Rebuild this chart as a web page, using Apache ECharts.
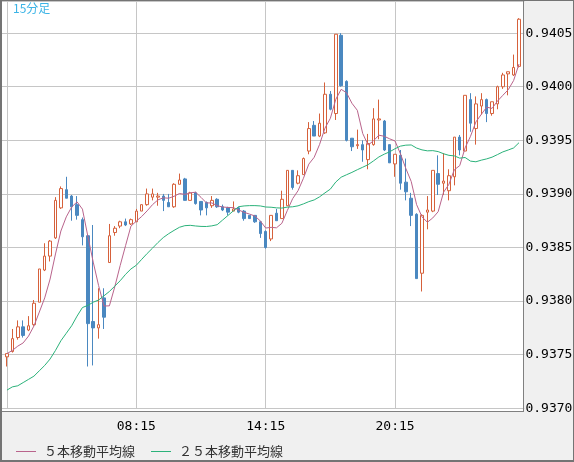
<!DOCTYPE html>
<html>
<head>
<meta charset="utf-8">
<script src="https://cdn.jsdelivr.net/npm/echarts@6/dist/echarts.min.js"></script>
<style>
html,body{margin:0;padding:0;background:#f0f0f0;}
#chart{width:574px;height:462px;}
</style>
</head>
<body>
<div id="chart"></div>
<script>
// ---- data (15-minute bars) ----
const times = [
"02:15","02:30","02:45","03:00","03:15","03:30","03:45","04:00","04:15","04:30","04:45","05:00",
"05:15","05:30","05:45","06:00","06:15","06:30","06:45","07:00","07:15","07:30","07:45","08:00",
"08:15","08:30","08:45","09:00","09:15","09:30","09:45","10:00","10:15","10:30","10:45","11:00",
"11:15","11:30","11:45","12:00","12:15","12:30","12:45","13:00","13:15","13:30","13:45","14:00",
"14:15","14:30","14:45","15:00","15:15","15:30","15:45","16:00","16:15","16:30","16:45","17:00",
"17:15","17:30","17:45","18:00","18:15","18:30","18:45","19:00","19:15","19:30","19:45","20:00",
"20:15","20:30","20:45","21:00","21:15","21:30","21:45","22:00","22:15","22:30","22:45","23:00",
"23:15","23:30","23:45","00:00","00:15","00:30","00:45","01:00","01:15","01:30","01:45","02:00"
];
const openPrices = [
0.93748,0.93753,0.93766,0.93776,0.93773,0.93778,0.93799,0.93829,0.93842,0.93859,
0.93887,0.93904,0.93898,0.93890,0.93876,0.93861,0.93781,0.93775,0.93803,0.93836,
0.93864,0.93870,0.93874,0.93872,0.93874,0.93884,0.93890,0.93897,0.93897,0.93898,
0.93892,0.93888,0.93909,0.93914,0.93894,0.93901,0.93893,0.93892,0.93889,0.93895,
0.93888,0.93887,0.93884,0.93887,0.93884,0.93880,0.93880,0.93874,0.93865,0.93858,
0.93882,0.93877,0.93889,0.93922,0.93910,0.93918,0.93940,0.93964,0.93954,0.93957,
0.93993,0.93975,0.94048,0.94005,0.93952,0.93945,0.93946,0.93932,0.93946,0.93969,
0.93968,0.93946,0.93928,0.93936,0.93911,0.93896,0.93881,0.93826,0.93883,0.93884,
0.93919,0.93910,0.93903,0.93916,0.93953,0.93940,0.93988,0.93961,0.93982,0.93988,
0.93975,0.93984,0.94000,0.94012,0.94011,0.94019
];
const closePrices = [
0.93751,0.93765,0.93776,0.93768,0.93777,0.93798,0.93830,0.93842,0.93856,0.93894,
0.93905,0.93896,0.93888,0.93880,0.93860,0.93779,0.93775,0.93778,0.93785,0.93861,
0.93868,0.93874,0.93871,0.93876,0.93884,0.93890,0.93900,0.93900,0.93898,0.93894,
0.93888,0.93909,0.93913,0.93894,0.93901,0.93891,0.93885,0.93887,0.93894,0.93888,
0.93885,0.93883,0.93886,0.93883,0.93877,0.93877,0.93874,0.93863,0.93850,0.93880,
0.93875,0.93895,0.93922,0.93906,0.93917,0.93933,0.93961,0.93954,0.93966,0.93993,
0.93979,0.94049,0.94001,0.93950,0.93944,0.93946,0.93941,0.93947,0.93970,0.93970,
0.93941,0.93929,0.93937,0.93910,0.93902,0.93880,0.93821,0.93880,0.93885,0.93922,
0.93909,0.93912,0.93917,0.93953,0.93941,0.93992,0.93966,0.93984,0.93988,0.93975,
0.93986,0.94000,0.94011,0.94014,0.94018,0.94063
];
const lowPrices = [
0.93739,0.93752,0.93764,0.93766,0.93772,0.93777,0.93799,0.93828,0.93837,0.93858,
0.93886,0.93896,0.93875,0.93876,0.93852,0.93739,0.93740,0.93765,0.93774,0.93836,
0.93861,0.93868,0.93870,0.93871,0.93874,0.93884,0.93889,0.93894,0.93889,0.93884,
0.93888,0.93887,0.93909,0.93894,0.93894,0.93890,0.93880,0.93880,0.93887,0.93887,
0.93884,0.93880,0.93884,0.93882,0.93875,0.93877,0.93873,0.93859,0.93849,0.93856,
0.93875,0.93877,0.93889,0.93904,0.93909,0.93918,0.93937,0.93954,0.93953,0.93956,
0.93978,0.93969,0.94000,0.93949,0.93940,0.93942,0.93930,0.93923,0.93945,0.93951,
0.93940,0.93929,0.93916,0.93904,0.93894,0.93870,0.93821,0.93809,0.93867,0.93883,
0.93899,0.93899,0.93894,0.93908,0.93936,0.93940,0.93958,0.93946,0.93974,0.93967,
0.93973,0.93979,0.93998,0.93992,0.94010,0.94018
];
const highPrices = [
0.93751,0.93774,0.93782,0.93782,0.93786,0.93801,0.93830,0.93854,0.93857,0.93897,
0.93907,0.93916,0.93899,0.93898,0.93878,0.93862,0.93871,0.93812,0.93812,0.93872,
0.93870,0.93875,0.93877,0.93877,0.93886,0.93890,0.93905,0.93905,0.93901,0.93900,
0.93900,0.93910,0.93919,0.93915,0.93902,0.93902,0.93893,0.93893,0.93898,0.93896,
0.93890,0.93888,0.93893,0.93888,0.93885,0.93880,0.93880,0.93875,0.93866,0.93880,
0.93886,0.93903,0.93922,0.93922,0.93922,0.93934,0.93967,0.93968,0.93975,0.94004,
0.93996,0.94049,0.94050,0.94006,0.93952,0.93960,0.93950,0.93956,0.93980,0.93988,
0.93969,0.93946,0.93937,0.93941,0.93933,0.93901,0.93882,0.93881,0.93898,0.93922,
0.93936,0.93938,0.93923,0.93953,0.93955,0.93992,0.93994,0.93991,0.93994,0.93989,
0.93986,0.94001,0.94013,0.94014,0.94030,0.94064
];
// moving-average values before enough bars are visible
const ma5Lead = [0.93751,0.93754,0.93758,0.93761];
const ma25Lead = [
0.93717,0.93720,0.93721,0.93724,0.93727,0.93730,0.93735,0.93740,0.93746,0.93754,0.93763,0.93770,
0.93777,0.93786,0.93794,0.93796,0.93799,0.93801,0.93805,0.93809,0.93814,0.93819,0.93825,0.93830
];
const ma5Name = "５本移動平均線";
const ma25Name = "２５本移動平均線";
const titleText = "15分足";

// ---- derived ----
function sma(arr, n, lead) {
  return arr.map((_, i) => {
    if (i < n - 1) return lead[i];
    let s = 0;
    for (let k = i - n + 1; k <= i; k++) s += arr[k];
    return +(s / n).toFixed(6);
  });
}
const ma5 = sma(closePrices, 5, ma5Lead);
const ma25 = sma(closePrices, 25, ma25Lead);
const ohlc = times.map((_, i) => [openPrices[i], closePrices[i], lowPrices[i], highPrices[i]]);

// pad one empty slot at each end of the category axis
const cats = [''].concat(times, ['']);
const candleData = [['-','-','-','-']].concat(ohlc, [['-','-','-','-']]);
const ma5Data = ['-'].concat(ma5, ['-']);
const ma25Data = ['-'].concat(ma25, ['-']);

const GRID = '#c6c6c6', FRAME = '#808080', OUTER = '#747474';
const UP = '#d6613b', DOWN = '#4a88c0', C5 = '#b9648c', C25 = '#2bb27a';
const mono = 'DejaVu Sans Mono';
const cjk = '"Noto Sans CJK JP", "Noto Sans", sans-serif';

const chart = echarts.init(document.getElementById('chart'), null, {renderer: 'canvas'});
chart.setOption({
  animation: false,
  backgroundColor: '#f0f0f0',
  title: {
    text: titleText, left: 13, top: 2, padding: 0,
    textStyle: {fontSize: 12, fontWeight: 'normal', color: '#3cb4e6', fontFamily: cjk}
  },
  legend: {
    left: 16, top: 445, padding: 0, icon: 'rect', itemWidth: 20, itemHeight: 1, itemGap: 16,
    selectedMode: false,
    textStyle: {fontSize: 13, color: '#333', fontFamily: cjk, padding: [0, 0, 0, 3]},
    data: [ma5Name, ma25Name]
  },
  grid: {left: 1.6, right: 49.6, top: 1, bottom: 53.7, outerBoundsMode: 'none', containLabel: false},
  xAxis: {
    type: 'category', data: cats, boundaryGap: false,
    axisLine: {show: false}, axisTick: {show: false},
    axisLabel: {
      interval: (k) => k > 1 && k <= times.length && (k - 1) % 24 === 0,
      margin: 12, color: '#000', fontFamily: mono, fontSize: 13
    },
    splitLine: {
      show: true,
      interval: (k) => k >= 1 && k <= times.length && (k - 1) % 24 === 0,
      lineStyle: {color: GRID, width: 1}
    }
  },
  yAxis: {
    type: 'value', position: 'right', min: 0.9370, max: 0.9408, interval: 0.0005,
    axisLine: {show: false}, axisTick: {show: false},
    axisLabel: {
      margin: 1, showMaxLabel: false, color: '#000', fontFamily: mono, fontSize: 13,
      formatter: (v) => v.toFixed(4)
    },
    splitLine: {show: true, lineStyle: {color: GRID, width: 1}}
  },
  graphic: [
    {type: 'rect', z: -100, silent: true, shape: {x: 2, y: 1, width: 521.5, height: 410}, style: {fill: '#ffffff'}},
    {type: 'line', z: 100, silent: true, shape: {x1: 523.5, y1: 0, x2: 523.5, y2: 411.5}, style: {stroke: FRAME, lineWidth: 1}},
    {type: 'line', z: 100, silent: true, shape: {x1: 0, y1: 411.5, x2: 524, y2: 411.5}, style: {stroke: FRAME, lineWidth: 1}},
    {type: 'rect', z: 100, silent: true, shape: {x: 0, y: 0, width: 574, height: 1}, style: {fill: OUTER}},
    {type: 'rect', z: 100, silent: true, shape: {x: 0, y: 0, width: 2, height: 462}, style: {fill: OUTER}},
    {type: 'rect', z: 100, silent: true, shape: {x: 0, y: 460, width: 574, height: 2}, style: {fill: OUTER}},
    {type: 'rect', z: 100, silent: true, shape: {x: 573, y: 0, width: 1, height: 462}, style: {fill: OUTER}}
  ],
  series: [
    {
      type: 'candlestick', name: titleText, data: candleData, barWidth: 3, z: 2,
      itemStyle: {color: '#ffffff', color0: DOWN, borderColor: UP, borderColor0: DOWN, borderWidth: 1},
      emphasis: {disabled: true}
    },
    {
      type: 'line', name: ma5Name, data: ma5Data, showSymbol: false, symbol: 'none', z: 3,
      lineStyle: {color: C5, width: 1}, itemStyle: {color: C5}, emphasis: {disabled: true}
    },
    {
      type: 'line', name: ma25Name, data: ma25Data, showSymbol: false, symbol: 'none', z: 3,
      lineStyle: {color: C25, width: 1}, itemStyle: {color: C25}, emphasis: {disabled: true}
    }
  ]
});
</script>
</body>
</html>
